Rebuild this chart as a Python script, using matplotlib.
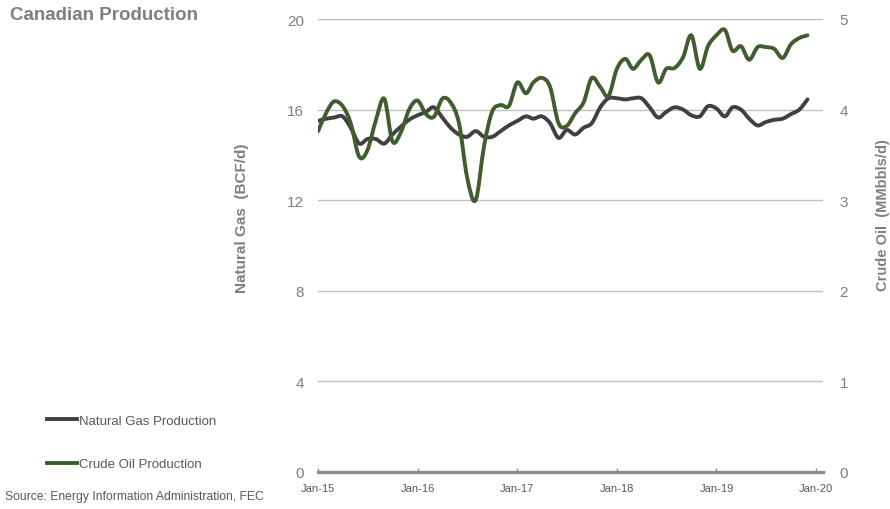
import numpy as np
import pandas as pd
import matplotlib.pyplot as plt
import matplotlib.dates as mdates
from matplotlib.path import Path
from matplotlib.patches import PathPatch
from matplotlib.lines import Line2D

plt.rcParams['font.family'] = ['Liberation Sans', 'DejaVu Sans']

# Monthly production, Jan-2015 .. Dec-2019
months = pd.date_range("2015-01-01", "2019-12-01", freq="MS")

gas_bcfd = [
    15.5, 15.6, 15.65, 15.7, 15.2, 14.5, 14.7, 14.7, 14.5, 14.9, 15.25, 15.55,
    15.75, 15.9, 16.1, 15.65, 15.2, 14.9, 14.8, 15.05, 14.8, 14.8, 15.05, 15.3,
    15.5, 15.7, 15.6, 15.7, 15.4, 14.75, 15.1, 14.9, 15.2, 15.4, 16.1, 16.5,
    16.5, 16.45, 16.5, 16.5, 16.1, 15.65, 15.9, 16.1, 16.0, 15.75, 15.7, 16.15,
    16.05, 15.7, 16.1, 16.0, 15.6, 15.3, 15.45, 15.55, 15.6, 15.8, 16.0, 16.45,
]

oil_mmbd = [
    3.76, 3.97, 4.09, 4.04, 3.85, 3.48, 3.55, 3.88, 4.12, 3.65, 3.75, 4.0,
    4.1, 3.95, 3.92, 4.12, 4.08, 3.85, 3.25, 3.0, 3.6, 3.98, 4.05, 4.04,
    4.3, 4.18, 4.3, 4.35, 4.25, 3.85, 3.82, 3.96, 4.08, 4.35, 4.25, 4.15,
    4.45, 4.56, 4.45, 4.55, 4.6, 4.3, 4.45, 4.46, 4.58, 4.82, 4.45, 4.7,
    4.82, 4.88, 4.65, 4.70, 4.55, 4.69, 4.69, 4.67, 4.57, 4.72, 4.79, 4.82,
]

year_ticks = pd.date_range("2015-01-01", "2020-01-01", freq="YS")
year_labels = ["Jan-15", "Jan-16", "Jan-17", "Jan-18", "Jan-19", "Jan-20"]

gas_color = "#404040"
oil_color = "#3f5d2f"
grey_text = "#7f7f7f"


def smooth_path(x, y):
    # Catmull-Rom style bezier through every point (spreadsheet "smoothed line")
    pts = np.column_stack([np.asarray(x, float), np.asarray(y, float)])
    verts = [pts[0]]
    codes = [Path.MOVETO]
    n = len(pts)
    for i in range(n - 1):
        p0 = pts[max(i - 1, 0)]
        p1 = pts[i]
        p2 = pts[i + 1]
        p3 = pts[min(i + 2, n - 1)]
        verts += [p1 + (p2 - p0) / 6.0, p2 - (p3 - p1) / 6.0, p2]
        codes += [Path.CURVE4] * 3
    return Path(verts, codes)


fig = plt.figure(figsize=(8.9, 5.1), dpi=100)
ax = fig.add_axes([318 / 890, 37 / 510, 505 / 890, 453 / 510])
ax2 = ax.twinx()

xnum = mdates.date2num(months)
ax.add_patch(PathPatch(smooth_path(xnum, gas_bcfd), fill=False,
                       edgecolor=gas_color, lw=2.8, capstyle="round",
                       joinstyle="round", zorder=3))
ax2.add_patch(PathPatch(smooth_path(xnum, oil_mmbd), fill=False,
                        edgecolor=oil_color, lw=2.8, capstyle="round",
                        joinstyle="round", zorder=3))

x0 = pd.Timestamp("2015-01-01")
ax.set_xlim(x0, x0 + pd.Timedelta(days=5.07 * 365.25))
ax.set_ylim(0, 20)
ax2.set_ylim(0, 5)
ax.set_yticks(np.arange(0, 21, 4))
ax2.set_yticks(np.arange(0, 6, 1))
ax.set_xticks(year_ticks)
ax.set_xticklabels(year_labels)

ax.yaxis.grid(True, color="#bfbfbf", lw=1.0)
ax.set_axisbelow(True)

for a in (ax, ax2):
    for s in ("top", "left", "right", "bottom"):
        a.spines[s].set_visible(False)
ax.spines["bottom"].set_visible(True)
ax.spines["bottom"].set_color("#8c8c8c")
ax.spines["bottom"].set_linewidth(2.4)

ax.tick_params(axis="y", length=0, pad=10, labelsize=11, labelcolor=grey_text)
ax2.tick_params(axis="y", length=0, pad=12, labelsize=11, labelcolor=grey_text)
ax.tick_params(axis="x", direction="in", length=3, width=1, color="#8c8c8c",
               pad=8, labelsize=8, labelcolor="#595959")

ax.set_ylabel("Natural Gas  (BCF/d)", fontsize=11, fontweight="bold",
              color=grey_text)
ax.yaxis.set_label_coords(-0.137, 0.563)
ax2.set_ylabel("Crude Oil  (MMbbls/d)", fontsize=10.5, fontweight="bold",
               color=grey_text)
ax2.yaxis.set_label_coords(1.104, 0.57)

fig.text(10 / 890, 1 - 15 / 510, "Canadian Production", fontsize=13.5,
         fontweight="bold", color=grey_text, va="center", ha="left")

handles = [Line2D([], [], color=gas_color, lw=2.8),
           Line2D([], [], color=oil_color, lw=2.8)]
fig.legend(handles, ["Natural Gas Production", "Crude Oil Production"],
           loc="upper left", bbox_to_anchor=(35 / 890, 1 - 404 / 510),
           frameon=False, fontsize=9.5, labelcolor="#595959",
           handlelength=2.3, handletextpad=0.1, labelspacing=2.35)

fig.text(5 / 890, 1 - 497 / 510, "Source: Energy Information Administration, FEC",
         fontsize=8.7, color="#595959", va="center", ha="left")

fig.savefig("out.png", dpi=100)
